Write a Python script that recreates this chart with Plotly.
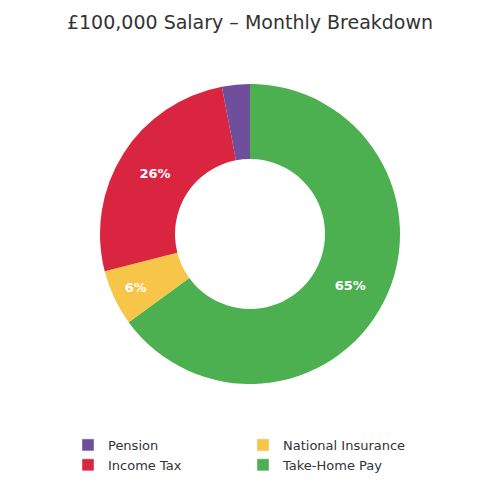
import plotly.graph_objects as go

labels = ['Take-Home Pay', 'National Insurance', 'Income Tax', 'Pension']
values = [65, 6, 26, 3]
colors = ['#4caf50', '#f7c548', '#d9253f', '#6f4e9c']

legend_order = ['Pension', 'National Insurance', 'Income Tax', 'Take-Home Pay']

fig = go.Figure()
fig.add_trace(go.Pie(
    labels=labels, values=values, hole=0.5, sort=False,
    direction='clockwise', rotation=0,
    marker=dict(colors=colors),
    textinfo='percent', texttemplate='<b>%{percent:.0%}</b>',
    textfont=dict(color='white', size=13, family='DejaVu Sans'),
    insidetextorientation='horizontal',
    showlegend=False,
    domain=dict(x=[0.184, 0.784], y=[0.248, 0.848]),
))

# legend entries in the reference's row order
for name in legend_order:
    fig.add_trace(go.Bar(x=[None], y=[None], name=name,
                         marker_color=colors[labels.index(name)]))

fig.update_layout(
    width=500, height=500,
    title=dict(text='£100,000 Salary – Monthly Breakdown', x=0.484, y=0.985,
               font=dict(size=19, color='#333333')),
    font=dict(family='DejaVu Sans', color='#333333', size=13),
    paper_bgcolor='white', plot_bgcolor='white',
    xaxis=dict(visible=False), yaxis=dict(visible=False),
    legend=dict(orientation='h', x=0.47, xanchor='center', y=0.056, yanchor='bottom',
                entrywidth=130, font=dict(size=13)),
    margin=dict(l=0, r=0, t=0, b=0),
)

fig.write_html('out.html')
